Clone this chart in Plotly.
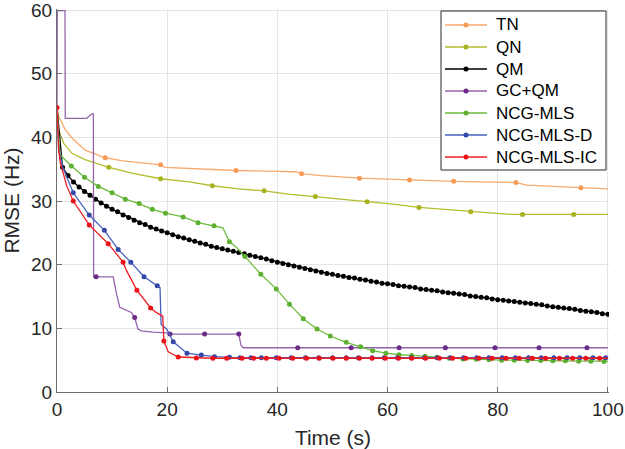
import plotly.graph_objects as go

# ---------------- data ----------------
tn_t = [0, 0.3, 1.5, 2.7, 5.1, 8.75, 12.0, 15.0, 18.8, 19.6, 25.0, 32.5, 40.0, 43.4, 44.4, 48.0, 54.9, 64.0, 72.0, 83.3, 85.3, 95.1, 100]
tn_y = [44.7, 43.3, 41.2, 39.9, 38.0, 36.8, 36.3, 36.0, 35.7, 35.3, 35.1, 34.8, 34.65, 34.6, 34.3, 34.0, 33.6, 33.3, 33.1, 32.9, 32.5, 32.1, 31.9]
tn_m = [0, 0, 0, 0, 0, 1, 0, 0, 1, 0, 0, 1, 0, 0, 1, 0, 1, 1, 1, 1, 0, 1, 0]

qn_t = [0, 0.3, 1.2, 2.7, 5.1, 9.4, 14.0, 18.8, 24.0, 28.2, 33.0, 37.6, 42.0, 46.9, 51.0, 56.3, 61.0, 65.7, 70.0, 75.1, 82.4, 84.5, 93.8, 100]
qn_y = [44.7, 41.2, 39.1, 37.5, 36.5, 35.3, 34.3, 33.5, 33.0, 32.4, 31.9, 31.6, 31.1, 30.7, 30.4, 29.9, 29.5, 29.0, 28.7, 28.3, 27.9, 27.9, 27.9, 27.9]
qn_m = [0, 0, 0, 0, 0, 1, 0, 1, 0, 1, 0, 1, 0, 1, 0, 1, 0, 1, 0, 1, 0, 1, 1, 0]

qm_t = list(range(0, 101))
qm_y = [44.7, 35.3, 34.0, 33.0, 32.2, 31.5, 30.9, 30.3, 29.7, 29.2,
        28.7, 28.3, 27.8, 27.4, 27.0, 26.6, 26.3, 25.9, 25.6, 25.3,
        25.0, 24.7, 24.4, 24.2, 23.9, 23.7, 23.4, 23.2, 22.9, 22.7,
        22.5, 22.3, 22.1, 21.9, 21.7, 21.5, 21.3, 21.1, 20.9, 20.6,
        20.4, 20.2, 20.0, 19.8, 19.6, 19.4, 19.2, 19.0, 18.8, 18.6,
        18.5, 18.3, 18.2, 18.0, 17.9, 17.7, 17.6, 17.4, 17.3, 17.1,
        17.0, 16.9, 16.7, 16.6, 16.5, 16.4, 16.2, 16.1, 16.0, 15.9,
        15.7, 15.6, 15.5, 15.4, 15.3, 15.1, 15.0, 14.9, 14.8, 14.6,
        14.5, 14.4, 14.3, 14.2, 14.1, 14.0, 13.9, 13.8, 13.7, 13.5,
        13.4, 13.3, 13.2, 13.1, 13.0, 12.8, 12.7, 12.6, 12.5, 12.3, 12.2]
qm_m = [0] + [1] * 100

gc_t = [0, 0.05, 1.45, 1.5, 5.4, 6.3, 6.6, 6.65, 7.1, 10.2, 10.8, 11.4, 13.5, 14.1, 14.7, 15.3, 17.4, 19.9, 20.5, 26.8, 33.0, 33.4, 33.8, 43.7, 53.4, 62.1, 70.5, 79.5, 87.5, 96.2, 100]
gc_y = [44.7, 59.9, 59.9, 43.0, 43.0, 43.7, 43.7, 18.1, 18.1, 18.1, 15.4, 13.3, 12.5, 11.7, 9.9, 9.6, 9.4, 9.3, 9.1, 9.1, 9.1, 7.3, 6.95, 6.95, 6.95, 6.95, 6.95, 6.95, 6.95, 6.95, 6.95]
gc_m = [0, 0, 0, 0, 0, 0, 0, 0, 1, 0, 0, 0, 0, 1, 0, 0, 0, 0, 1, 1, 1, 0, 0, 1, 1, 1, 1, 1, 1, 1, 0]

ncg_t = [0, 0.5, 2.6, 5.0, 7.5, 10.0, 12.4, 14.9, 17.3, 19.7, 22.9, 25.6, 28.5, 30.1, 31.3, 32.6, 34.1, 37.0, 39.8, 42.2, 44.7, 47.2, 49.6, 52.5, 55.1, 57.3, 59.7, 62.1, 64.4, 66.8, 69.0, 71.2, 73.7, 76.1, 78.4, 80.7, 83.0, 85.4, 87.8, 90.0, 92.3, 94.7, 96.9, 99.3, 100]
ncg_y = [44.7, 37.3, 35.5, 33.75, 32.3, 31.3, 30.3, 29.6, 28.7, 28.1, 27.5, 26.6, 26.1, 25.8, 23.6, 22.7, 21.3, 18.5, 16.2, 13.8, 11.5, 9.9, 8.8, 7.8, 7.1, 6.5, 6.1, 5.85, 5.75, 5.6, 5.45, 5.3, 5.2, 5.15, 5.05, 5.0, 5.0, 4.95, 4.95, 4.9, 4.9, 4.85, 4.85, 4.8, 4.8]
ncg_m = [0, 0, 1, 1, 1, 1, 1, 1, 1, 1, 1, 1, 1, 0, 1, 0, 1, 1, 1, 1, 1, 1, 1, 1, 1, 1, 1, 1, 1, 1, 1, 1, 1, 1, 1, 1, 1, 1, 1, 1, 1, 1, 1, 1, 0]

ncgd_t = [0, 0.3, 1.1, 2.95, 5.85, 8.6, 11.1, 13.4, 15.8, 18.2, 18.7, 18.9, 19.9, 21.1, 23.6, 26.2, 28.6, 31.3, 33.2, 35.2, 37.1, 39.8, 42.5, 45.1, 47.5, 50.0, 52.5, 54.7, 57.2, 59.4, 61.8, 64.3, 66.7, 69.0, 71.4, 73.8, 76.2, 78.4, 80.8, 83.2, 85.6, 87.9, 90.2, 92.6, 94.9, 97.3, 99.6, 100]
ncgd_y = [44.7, 38.0, 35.2, 31.3, 27.8, 25.4, 22.4, 20.4, 18.1, 16.7, 16.4, 10.6, 9.9, 7.9, 6.1, 5.8, 5.55, 5.45, 5.4, 5.4, 5.4, 5.4, 5.4, 5.4, 5.4, 5.4, 5.4, 5.4, 5.4, 5.4, 5.4, 5.4, 5.4, 5.4, 5.4, 5.4, 5.4, 5.4, 5.4, 5.4, 5.4, 5.4, 5.4, 5.4, 5.4, 5.4, 5.4, 5.4]
ncgd_m = [0, 0, 0, 1, 1, 1, 1, 1, 1, 1, 0, 0, 0, 1, 1, 1, 1, 1, 1, 1, 1, 1, 1, 1, 1, 1, 1, 1, 1, 1, 1, 1, 1, 1, 1, 1, 1, 1, 1, 1, 1, 1, 1, 1, 1, 1, 1, 0]

ncgic_t = [0, 0.3, 0.6, 1.8, 2.95, 5.85, 9.3, 12.0, 12.6, 14.5, 17.0, 18.0, 19.0, 19.2, 19.4, 20.2, 22.0, 25.3, 28.3, 30.8, 33.6, 35.7, 38.0, 40.3, 42.8, 45.3, 47.6, 50.1, 52.5, 54.9, 57.2, 59.6, 62.0, 64.4, 66.9, 69.4, 71.8, 74.2, 76.6, 79.0, 81.5, 83.9, 86.3, 88.7, 91.2, 93.6, 96.0, 98.5, 100]
ncgic_y = [44.7, 38.0, 36.0, 32.3, 30.0, 26.25, 23.3, 20.4, 19.1, 16.0, 13.2, 12.5, 12.0, 11.9, 8.0, 6.3, 5.5, 5.35, 5.3, 5.3, 5.3, 5.3, 5.3, 5.3, 5.3, 5.3, 5.3, 5.3, 5.3, 5.3, 5.3, 5.3, 5.3, 5.3, 5.3, 5.3, 5.3, 5.3, 5.3, 5.3, 5.3, 5.3, 5.3, 5.3, 5.3, 5.3, 5.3, 5.3, 5.3]
ncgic_m = [1, 0, 0, 0, 1, 1, 1, 1, 0, 1, 1, 0, 0, 0, 1, 0, 1, 1, 1, 1, 1, 1, 1, 1, 1, 1, 1, 1, 1, 1, 1, 1, 1, 1, 1, 1, 1, 1, 1, 1, 1, 1, 1, 1, 1, 1, 1, 1, 0]

names = ["TN", "QN", "QM", "GC+QM", "NCG-MLS", "NCG-MLS-D", "NCG-MLS-IC"]
line_colors = ["#F9A96B", "#B4BE2C", "#000000", "#9463AC", "#6CBD3F", "#4560BD", "#F01E23"]
marker_colors = ["#F79A55", "#A8B220", "#000000", "#6A2C86", "#5DB030", "#3348A8", "#EA1218"]
series_t = [tn_t, qn_t, qm_t, gc_t, ncg_t, ncgd_t, ncgic_t]
series_y = [tn_y, qn_y, qm_y, gc_y, ncg_y, ncgd_y, ncgic_y]
series_m = [tn_m, qn_m, qm_m, gc_m, ncg_m, ncgd_m, ncgic_m]

FONT = "Liberation Sans, Arial, Helvetica, sans-serif"
TXT = "#262626"
LW = 1.3
MS = 5

# plot area in pixels (figure 625 x 449)
L, R, T, B = 57, 16, 9, 57
PW, PH = 625 - L - R, 449 - T - B


def px(xp):
    return (xp - L) / PW


def py(yp):
    return (449 - B - yp) / PH


fig = go.Figure()
for name, t, y, m, lc, mc in zip(names, series_t, series_y, series_m, line_colors, marker_colors):
    fig.add_trace(go.Scatter(x=t, y=y, mode="lines", name=name, line=dict(color=lc, width=LW),
                             showlegend=False, hoverinfo="skip"))
    mx = [a for a, f in zip(t, m) if f]
    my = [b for b, f in zip(y, m) if f]
    fig.add_trace(go.Scatter(x=mx, y=my, mode="markers", name=name,
                             marker=dict(color=mc, size=MS, line=dict(width=0)),
                             showlegend=False, hoverinfo="skip"))

# ---- legend (drawn as shapes/annotations to match spacing) ----
shapes = []
annotations = []
box_x0, box_x1, box_y0, box_y1 = 441, 606, 11, 170
shapes.append(dict(type="rect", xref="paper", yref="paper",
                   x0=px(box_x0), x1=px(box_x1), y0=py(box_y1), y1=py(box_y0),
                   line=dict(color="#2b2b2b", width=1), fillcolor="white", layer="above"))
for i, (name, lc, mc) in enumerate(zip(names, line_colors, marker_colors)):
    yc = 25 + 22 * i
    shapes.append(dict(type="line", xref="paper", yref="paper",
                       x0=px(445), x1=px(487), y0=py(yc), y1=py(yc),
                       line=dict(color=lc, width=LW), layer="above"))
    r = 2.5
    shapes.append(dict(type="circle", xref="paper", yref="paper",
                       x0=px(466 - r), x1=px(466 + r), y0=py(yc + r), y1=py(yc - r),
                       line=dict(width=0), fillcolor=mc, layer="above"))
    annotations.append(dict(xref="paper", yref="paper", x=px(494), y=py(yc),
                            xanchor="left", yanchor="middle", showarrow=False,
                            text=name, font=dict(family=FONT, size=17, color="#000000")))

axis_common = dict(
    showgrid=True, gridcolor="#e4e4e4", gridwidth=1,
    showline=True, linecolor="#6e6e6e", linewidth=1.3,
    ticks="inside", ticklen=5, tickcolor="#6e6e6e", tickwidth=1.3,
    zeroline=False, mirror=False, ticklabeloverflow="allow",
    automargin=False,
    tickfont=dict(family=FONT, size=19, color=TXT),
)

fig.update_layout(
    width=625, height=449, autosize=False,
    margin=dict(l=L, r=R, t=T, b=B, autoexpand=False),
    paper_bgcolor="white", plot_bgcolor="white",
    font=dict(family=FONT, color=TXT),
    showlegend=False,
    xaxis=dict(range=[0, 100.2], tickvals=[0, 20, 40, 60, 80, 100],
               title=dict(text="Time (s)", font=dict(family=FONT, size=21, color=TXT), standoff=12),
               **axis_common),
    yaxis=dict(range=[0, 60.17], tickvals=[0, 10, 20, 30, 40, 50, 60],
               title=dict(text="RMSE (Hz)", font=dict(family=FONT, size=21, color=TXT), standoff=6),
               **axis_common),
    shapes=shapes,
    annotations=annotations,
)

fig.write_html("out.html", config={"displayModeBar": False},
               post_script="document.body.style.margin='0';")
